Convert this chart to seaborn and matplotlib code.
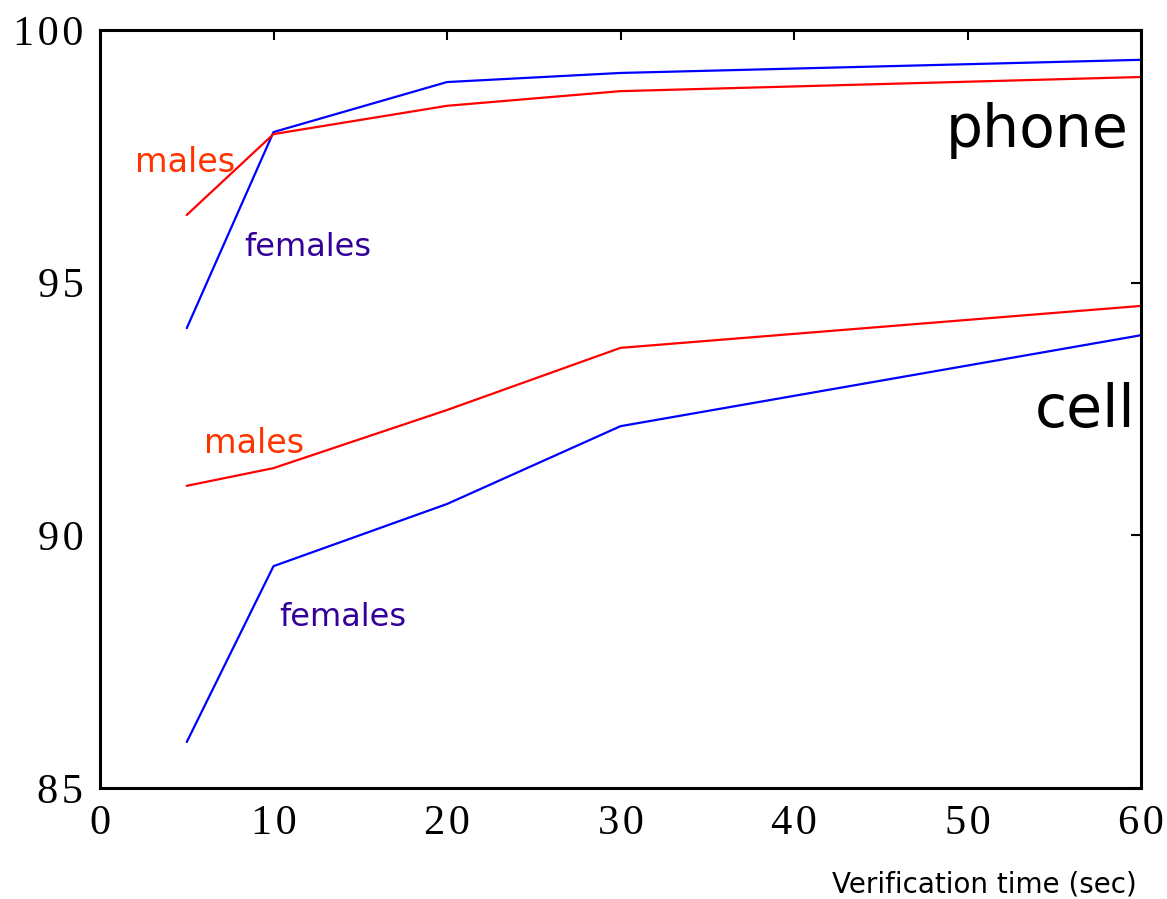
import matplotlib
matplotlib.use("Agg")
import matplotlib.pyplot as plt
import seaborn as sns
import pandas as pd

# ---- data ----
times = [5, 10, 20, 30, 60]
phone_females = [94.10, 97.98, 98.97, 99.15, 99.41]
phone_males = [96.34, 97.94, 98.50, 98.79, 99.07]
cell_males = [90.98, 91.33, 92.48, 93.71, 94.54]
cell_females = [85.91, 89.39, 90.62, 92.16, 93.96]

x_ticks = [0, 10, 20, 30, 40, 50, 60]
y_ticks = [85, 90, 95, 100]
x_label = "Verification time (sec)"

rows = []
for name, vals in [("phone_females", phone_females), ("phone_males", phone_males),
                   ("cell_males", cell_males), ("cell_females", cell_females)]:
    for t, v in zip(times, vals):
        rows.append({"time": t, "value": v, "series": name})
df = pd.DataFrame(rows)

sns.set_style("white")
plt.rcParams['font.family'] = ['DejaVu Sans']
plt.rcParams['text.color'] = 'black'
plt.rcParams['xtick.color'] = 'black'
plt.rcParams['ytick.color'] = 'black'

fig = plt.figure(figsize=(11.67, 8.99), dpi=100)
ax = fig.add_axes([100/1167, 1-788/899, (1141-100)/1167, (788-30)/899])

palette = {"phone_females": "#0000FF", "phone_males": "#FF0000",
           "cell_males": "#FF0000", "cell_females": "#0000FF"}
sns.lineplot(data=df, x="time", y="value", hue="series", palette=palette,
             linewidth=1.6, legend=False, ax=ax, sort=False)

ax.set_xlim(0, 60)
ax.set_ylim(85, 100)
ax.set_xticks(x_ticks)
ax.set_yticks(y_ticks)
sp = "\u200a"
serif = ['Liberation Serif', 'DejaVu Serif']
ax.set_xticklabels([sp.join(str(t)) for t in x_ticks],
                   family=serif, fontsize=30.5, color='black')
ax.set_yticklabels([sp.join(str(t)) for t in y_ticks],
                   family=serif, fontsize=30.5, color='black')
ax.tick_params(direction='in', length=7, width=1.5, top=True, right=True,
               labeltop=False, labelright=False, pad=12)
ax.set_xlabel("")
ax.set_ylabel("")
for s in ax.spines.values():
    s.set_visible(True)
    s.set_linewidth(2.2)
    s.set_color("black")

males_c = "#FF3300"
females_c = "#330099"
ax.text(4.9, 97.37, "males", color=males_c, fontsize=24, ha='center', va='center')
ax.text(12.0, 95.69, "females", color=females_c, fontsize=23, ha='center', va='center')
ax.text(8.9, 91.81, "males", color=males_c, fontsize=24, ha='center', va='center')
ax.text(14.0, 88.38, "females", color=females_c, fontsize=23, ha='center', va='center')
ax.text(59.26, 97.68, "phone", color="black", fontsize=42, ha='right', va='baseline')
ax.text(59.65, 92.14, "cell", color="black", fontsize=42, ha='right', va='baseline')

fig.text(1137/1167, 1-893/899, x_label, fontsize=20, ha='right', va='baseline', color='black')

fig.savefig("out.png", dpi=100)
